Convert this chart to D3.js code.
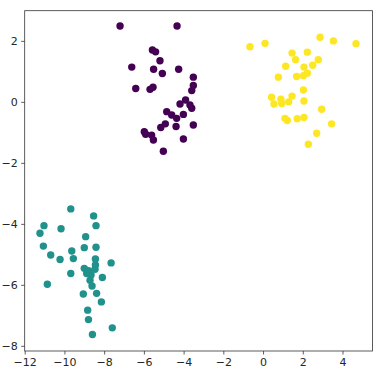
<!DOCTYPE html>
<html>
<head>
<meta charset="utf-8">
<script src="https://cdn.jsdelivr.net/npm/d3@7"></script>
<style>
  body { margin: 0; background: #fff; }
  svg { display: block; font-family: "DejaVu Sans", sans-serif; }
</style>
</head>
<body>
<div id="chart"></div>
<script>
// cluster 0 (purple)
const purple = [
  [-7.20, 2.49], [-4.33, 2.49], [-5.57, 1.70], [-5.41, 1.64], [-5.19, 1.35],
  [-6.61, 1.14], [-5.51, 1.07], [-5.07, 0.93], [-4.25, 1.07], [-3.51, 0.81],
  [-3.51, 0.54], [-3.59, 0.37], [-6.41, 0.44], [-5.69, 0.41], [-5.54, 0.48],
  [-4.18, -0.07], [-3.90, 0.06], [-3.68, -0.10], [-3.59, -0.21], [-4.85, -0.32],
  [-4.60, -0.43], [-4.35, -0.54], [-4.01, -0.41], [-4.92, -0.72], [-5.15, -0.84],
  [-4.38, -0.81], [-3.51, -0.76], [-5.98, -0.98], [-5.91, -1.06], [-5.61, -1.09],
  [-5.52, -1.25], [-4.01, -1.22], [-5.02, -1.62]
];
// cluster 1 (teal)
const teal = [
  [-9.68, -3.51], [-8.53, -3.74], [-8.41, -4.06], [-11.03, -4.06], [-11.23, -4.31],
  [-10.17, -4.16], [-8.93, -4.42], [-11.06, -4.73], [-9.00, -4.78], [-8.41, -4.77],
  [-10.69, -5.02], [-9.63, -4.89], [-9.55, -5.14], [-10.22, -5.17], [-8.44, -5.15],
  [-8.44, -5.35], [-7.65, -5.28], [-9.00, -5.46], [-8.79, -5.54], [-8.46, -5.49],
  [-8.66, -5.68], [-8.88, -5.63], [-9.68, -5.63], [-8.09, -5.76], [-8.71, -5.85],
  [-10.86, -5.98], [-8.61, -6.04], [-8.38, -6.28], [-9.05, -6.30], [-8.14, -6.56],
  [-8.83, -6.83], [-8.79, -7.14], [-7.59, -7.41], [-8.59, -7.63]
];
// cluster 2 (yellow)
const yellow = [
  [-0.66, 1.81], [0.10, 1.92], [2.87, 2.12], [3.54, 2.00], [4.68, 1.91],
  [1.46, 1.60], [2.23, 1.63], [1.64, 1.38], [2.78, 1.38], [2.50, 1.20],
  [1.14, 1.17], [2.06, 1.14], [2.23, 0.94], [2.03, 0.86], [1.69, 0.83],
  [0.77, 0.81], [2.03, 0.39], [0.43, 0.15], [0.90, 0.09], [1.46, 0.19],
  [2.06, 0.03], [0.55, -0.07], [0.94, -0.05], [1.29, 0.00], [2.95, -0.24],
  [1.10, -0.54], [1.22, -0.61], [1.72, -0.55], [2.06, -0.51], [3.45, -0.72],
  [2.70, -1.03], [2.28, -1.39]
];
const xTicks = [-12, -10, -8, -6, -4, -2, 0, 2, 4];
const yTicks = [-8, -6, -4, -2, 0, 2];

const series = [
  { color: '#440154', points: purple },
  { color: '#21918c', points: teal },
  { color: '#fde725', points: yellow }
];

const W = 379, H = 383;
const margin = { top: 10.7, right: 6.5, bottom: 32, left: 24.7 };
const width = W - margin.left - margin.right;
const height = H - margin.top - margin.bottom;

const svg = d3.select('#chart')
  .append('svg')
  .attr('width', W)
  .attr('height', H);

const g = svg.append('g')
  .attr('transform', `translate(${margin.left},${margin.top})`);

const x = d3.scaleLinear().domain([-12, 5.51]).range([0, width]);
const y = d3.scaleLinear().domain([-8.17, 2.99]).range([height, 0]);

// points
series.forEach(s => {
  g.selectAll(null)
    .data(s.points)
    .enter().append('circle')
    .attr('cx', d => x(d[0]))
    .attr('cy', d => y(d[1]))
    .attr('r', 3.7)
    .attr('fill', s.color);
});

// axes
const xAxis = g.append('g')
  .attr('transform', `translate(0,${height})`)
  .call(d3.axisBottom(x).tickValues(xTicks).tickSize(3.5).tickPadding(3.5));

const yAxis = g.append('g')
  .call(d3.axisLeft(y).tickValues(yTicks).tickSize(3.5).tickPadding(3.5));

[xAxis, yAxis].forEach(a => {
  a.select('.domain').remove();
  a.selectAll('line').attr('stroke', '#333').attr('stroke-width', 0.8);
  a.selectAll('text')
    .style('font-family', '"DejaVu Sans", sans-serif')
    .style('font-size', '11px')
    .style('fill', '#262626');
});

// frame
g.append('rect')
  .attr('width', width)
  .attr('height', height)
  .attr('fill', 'none')
  .attr('stroke', '#333')
  .attr('stroke-width', 0.8);
</script>
</body>
</html>
